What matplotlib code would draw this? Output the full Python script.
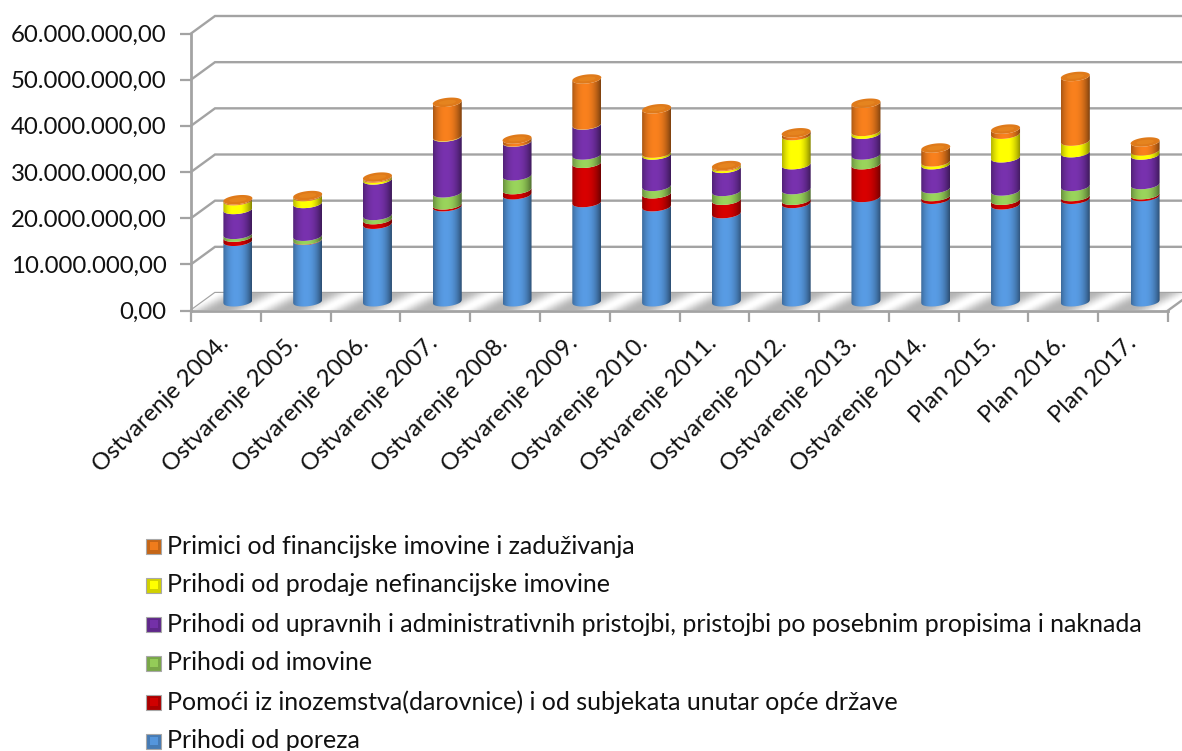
import matplotlib
matplotlib.use("Agg")
import matplotlib.pyplot as plt
import numpy as np
from matplotlib.patches import Polygon, Rectangle
from matplotlib.ticker import FuncFormatter

plt.rcParams['font.family'] = ['Lato', 'DejaVu Sans']

categories = ["Ostvarenje 2004.", "Ostvarenje 2005.", "Ostvarenje 2006.", "Ostvarenje 2007.",
              "Ostvarenje 2008.", "Ostvarenje 2009.", "Ostvarenje 2010.", "Ostvarenje 2011.",
              "Ostvarenje 2012.", "Ostvarenje 2013.", "Ostvarenje 2014.", "Plan 2015.",
              "Plan 2016.", "Plan 2017."]

# million kn
porezi = [13.1, 13.3, 16.8, 20.6, 23.2, 21.5, 20.6, 19.1, 21.3, 22.6, 22.2, 21.0, 22.2, 22.8]
pomoci = [0.9, 0.1, 1.0, 0.4, 1.1, 8.5, 2.8, 2.9, 0.7, 7.1, 0.6, 1.0, 0.6, 0.4]
imovina = [0.6, 0.8, 0.9, 2.6, 3.0, 1.8, 1.6, 1.9, 2.3, 2.1, 1.7, 2.0, 2.2, 2.2]
pristojbe = [5.4, 7.1, 7.7, 12.1, 7.3, 6.5, 6.8, 5.0, 5.4, 4.5, 5.2, 7.2, 7.3, 6.4]
prodaja = [1.9, 1.5, 0.4, 0.1, 0.05, 0.05, 0.4, 0.4, 6.3, 0.6, 0.6, 5.1, 2.5, 0.9]
primici = [0.2, 0.2, 0.2, 7.4, 0.6, 9.9, 9.6, 0.2, 0.6, 6.1, 3.0, 1.1, 14.0, 1.9]

series = [porezi, pomoci, imovina, pristojbe, prodaja, primici]
names = ["Prihodi od poreza",
         "Pomoći iz inozemstva(darovnice) i od subjekata unutar opće države",
         "Prihodi od imovine",
         "Prihodi od upravnih i administrativnih pristojbi, pristojbi po posebnim propisima i naknada",
         "Prihodi od prodaje nefinancijske imovine",
         "Primici od financijske imovine i zaduživanja"]
colors = ["#5596dc", "#d00000", "#94cc58", "#7430a8", "#ffff00", "#f07c1c"]

W, H = 1182, 751
X0, X1, Y0, Y1 = 191, 1168, 310.5, 33.5   # front plane of the chart in pixels
fig = plt.figure(figsize=(W / 100, H / 100), dpi=100)
ax = fig.add_axes([X0 / W, 1 - Y0 / H, (X1 - X0) / W, (Y0 - Y1) / H])

px_x = 14 / (X1 - X0)
px_y = 60 / (Y0 - Y1)
depth_x = 24 * px_x
depth_y = 17.5 * px_y
grid_col = "#a3a3a3"


def shade(col, n=60):
    """horizontal cylinder shading as a 1 x n rgb row"""
    rgb = np.array(matplotlib.colors.to_rgb(col))
    t = np.linspace(-1, 1, n)
    light = 0.62 + 0.42 * (1 - np.abs(t + 0.1) ** 2.2)
    return np.clip(rgb[None, None, :] * light[None, :, None], 0, 1)


def front_arc(xc, y, half_w, half_h, tilt, n=40):
    t = np.linspace(-1, 1, n)
    return xc + t * half_w, y - half_h * np.sqrt(1 - t ** 2) + tilt * t


def draw_image(arr, xs, ys, clip):
    im = ax.imshow(arr, extent=[xs[0], xs[1], ys[0], ys[1]], origin="lower",
                   aspect="auto", zorder=clip.get_zorder(), interpolation="bilinear")
    im.set_clip_path(clip)


# floor with its diagonal light bands
floor = Polygon([(0, 0), (14, 0), (14 + depth_x, depth_y), (depth_x, depth_y)],
                closed=True, fc="none", ec="none", zorder=2, clip_on=False)
ax.add_patch(floor)
gx, gy = np.meshgrid(np.linspace(0, 14 + depth_x, 700), np.linspace(0, depth_y, 30))
band = 0.5 + 0.5 * np.cos(2 * np.pi * (gx - (gy / depth_y) * depth_x * 1.4 + 0.1))
floor_img = 0.70 + 0.30 * band ** 1.4
floor_im = ax.imshow(floor_img, extent=[0, 14 + depth_x, 0, depth_y], origin="lower", cmap="gray",
                     vmin=0, vmax=1, aspect="auto", zorder=2)
floor_im.set_clip_box(fig.bbox)
floor_im.set_clip_path(floor)

# grid on the back and side walls
for v in range(0, 70, 10):
    ax.plot([0, depth_x, 14 + depth_x], [v, v + depth_y, v + depth_y], color=grid_col,
            lw=1.7, zorder=1, clip_on=False, solid_joinstyle="miter")
ax.plot([14, 14 + depth_x], [0, depth_y], color=grid_col, lw=1.7, zorder=3, clip_on=False)
ax.plot([0, 14], [0, 0], color=grid_col, lw=2, zorder=3, clip_on=False)
ax.plot([0, 0], [0, 60], color=grid_col, lw=2, zorder=3, clip_on=False)

# stacked cylinders
half_w = 14.5 * px_x
half_h = 4.5 * px_y
tilt = 1.5 * px_y
base = depth_y / 2
for i in range(len(categories)):
    xc = i + 0.5 + depth_x / 2
    bottom = base
    z = 4 + i * 0.01
    stack = [s[i] for s in series]
    for col, val in zip(colors, stack):
        xb, yb = front_arc(xc, bottom, half_w, half_h, tilt)
        xt, yt = front_arc(xc, bottom + val, half_w, half_h, tilt)
        pts = np.vstack([np.column_stack([xb, yb]), np.column_stack([xt, yt])[::-1]])
        seg = Polygon(pts, closed=True, fc="none", ec="none", zorder=z)
        ax.add_patch(seg)
        draw_image(shade(col), (xc - half_w, xc + half_w),
                   (bottom - 2 * half_h, bottom + val + half_h), seg)
        bottom += val
    # cap of the cylinder, with a slightly lighter middle
    t = np.linspace(0, 2 * np.pi, 80)
    cap_x = xc + half_w * np.cos(t)
    cap_y = bottom + half_h * np.sin(t) + tilt * np.cos(t)
    ax.fill(cap_x, cap_y, color="#df7a1a", lw=0, zorder=z + 0.001)
    ax.fill(xc + 0.6 * half_w * np.cos(t), bottom + 0.5 * half_h * np.sin(t) + 0.6 * tilt * np.cos(t),
            color="#e5841f", lw=0, zorder=z + 0.002)

ax.set_xlim(0, 14)
ax.set_ylim(0, 60)
for sp in ax.spines.values():
    sp.set_visible(False)
ax.patch.set_alpha(0)

ax.set_yticks(range(0, 70, 10))
ax.yaxis.set_major_formatter(FuncFormatter(
    lambda v, _: f"{v * 1e6:,.2f}".replace(",", "X").replace(".", ",").replace("X", ".")))
ax.tick_params(axis="y", length=8, width=1.6, color=grid_col, labelsize=17.3, pad=9.5,
               labelcolor="#111111")
ax.set_xticks(range(15))
ax.set_xticklabels([])
ax.tick_params(axis="x", which="major", length=8, width=1.6, color=grid_col)
# labels sit a little left of the bar centres
ax.set_xticks(np.arange(14) + 0.5 - 8 * px_x, minor=True)
ax.set_xticklabels(categories, minor=True, rotation=45, ha="right", rotation_mode="anchor",
                   fontsize=17.2, color="#111111")
ax.tick_params(axis="x", which="minor", length=0, pad=16)

# legend, drawn top to bottom in reverse series order
legend_y = [546, 585, 624, 663, 702, 741]
for y, name, col in zip(legend_y, names[::-1], colors[::-1]):
    fig.add_artist(Rectangle((146 / W, 1 - (y + 8) / H), 15 / W, 15 / H, transform=fig.transFigure,
                             fc=np.array(matplotlib.colors.to_rgb(col)) * 0.82, ec="#a8a8a8", lw=0.8))
    fig.add_artist(Rectangle((149.5 / W, 1 - (y + 4) / H), 8 / W, 8 / H, transform=fig.transFigure,
                             fc=col, ec="none"))
    fig.text(167 / W, 1 - y / H, name, fontsize=18, va="center", ha="left", color="#111111")

plt.savefig("out.png", dpi=100)
